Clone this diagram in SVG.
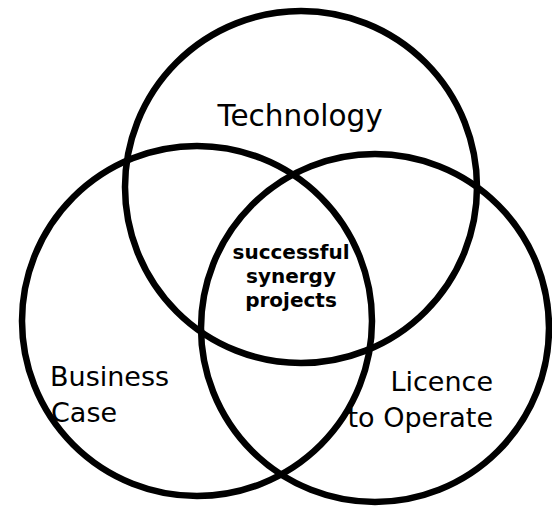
<svg xmlns="http://www.w3.org/2000/svg" width="552" height="506" viewBox="0 0 552 506">
<style>
.c{fill:none;stroke:#000;stroke-width:6.5}
.t{font-family:"DejaVu Sans",Verdana,sans-serif;font-size:27px;fill:#000}
.b{font-family:"DejaVu Sans",Verdana,sans-serif;font-size:20px;font-weight:bold;fill:#000;text-anchor:middle}
</style>
<rect width="552" height="506" fill="#fff"/>
<g id="technology">
<circle class="c" cx="301" cy="187" r="176"/>
<text class="t" x="300" y="126" text-anchor="middle" style="font-size:29.5px">Technology</text>
</g>
<g id="business-case">
<circle class="c" cx="197" cy="321" r="175"/>
<text class="t" x="50" y="386">Business</text>
<text class="t" x="51" y="422">Case</text>
</g>
<g id="licence-to-operate">
<circle class="c" cx="375" cy="328" r="174"/>
<text class="t" x="493" y="391" text-anchor="end">Licence</text>
<text class="t" x="493" y="427" text-anchor="end">to Operate</text>
</g>
<g id="successful-synergy-projects">
<text class="b" x="291" y="259">successful</text>
<text class="b" x="291" y="283">synergy</text>
<text class="b" x="291" y="307">projects</text>
</g>
<g id="connectors"/>
</svg>
